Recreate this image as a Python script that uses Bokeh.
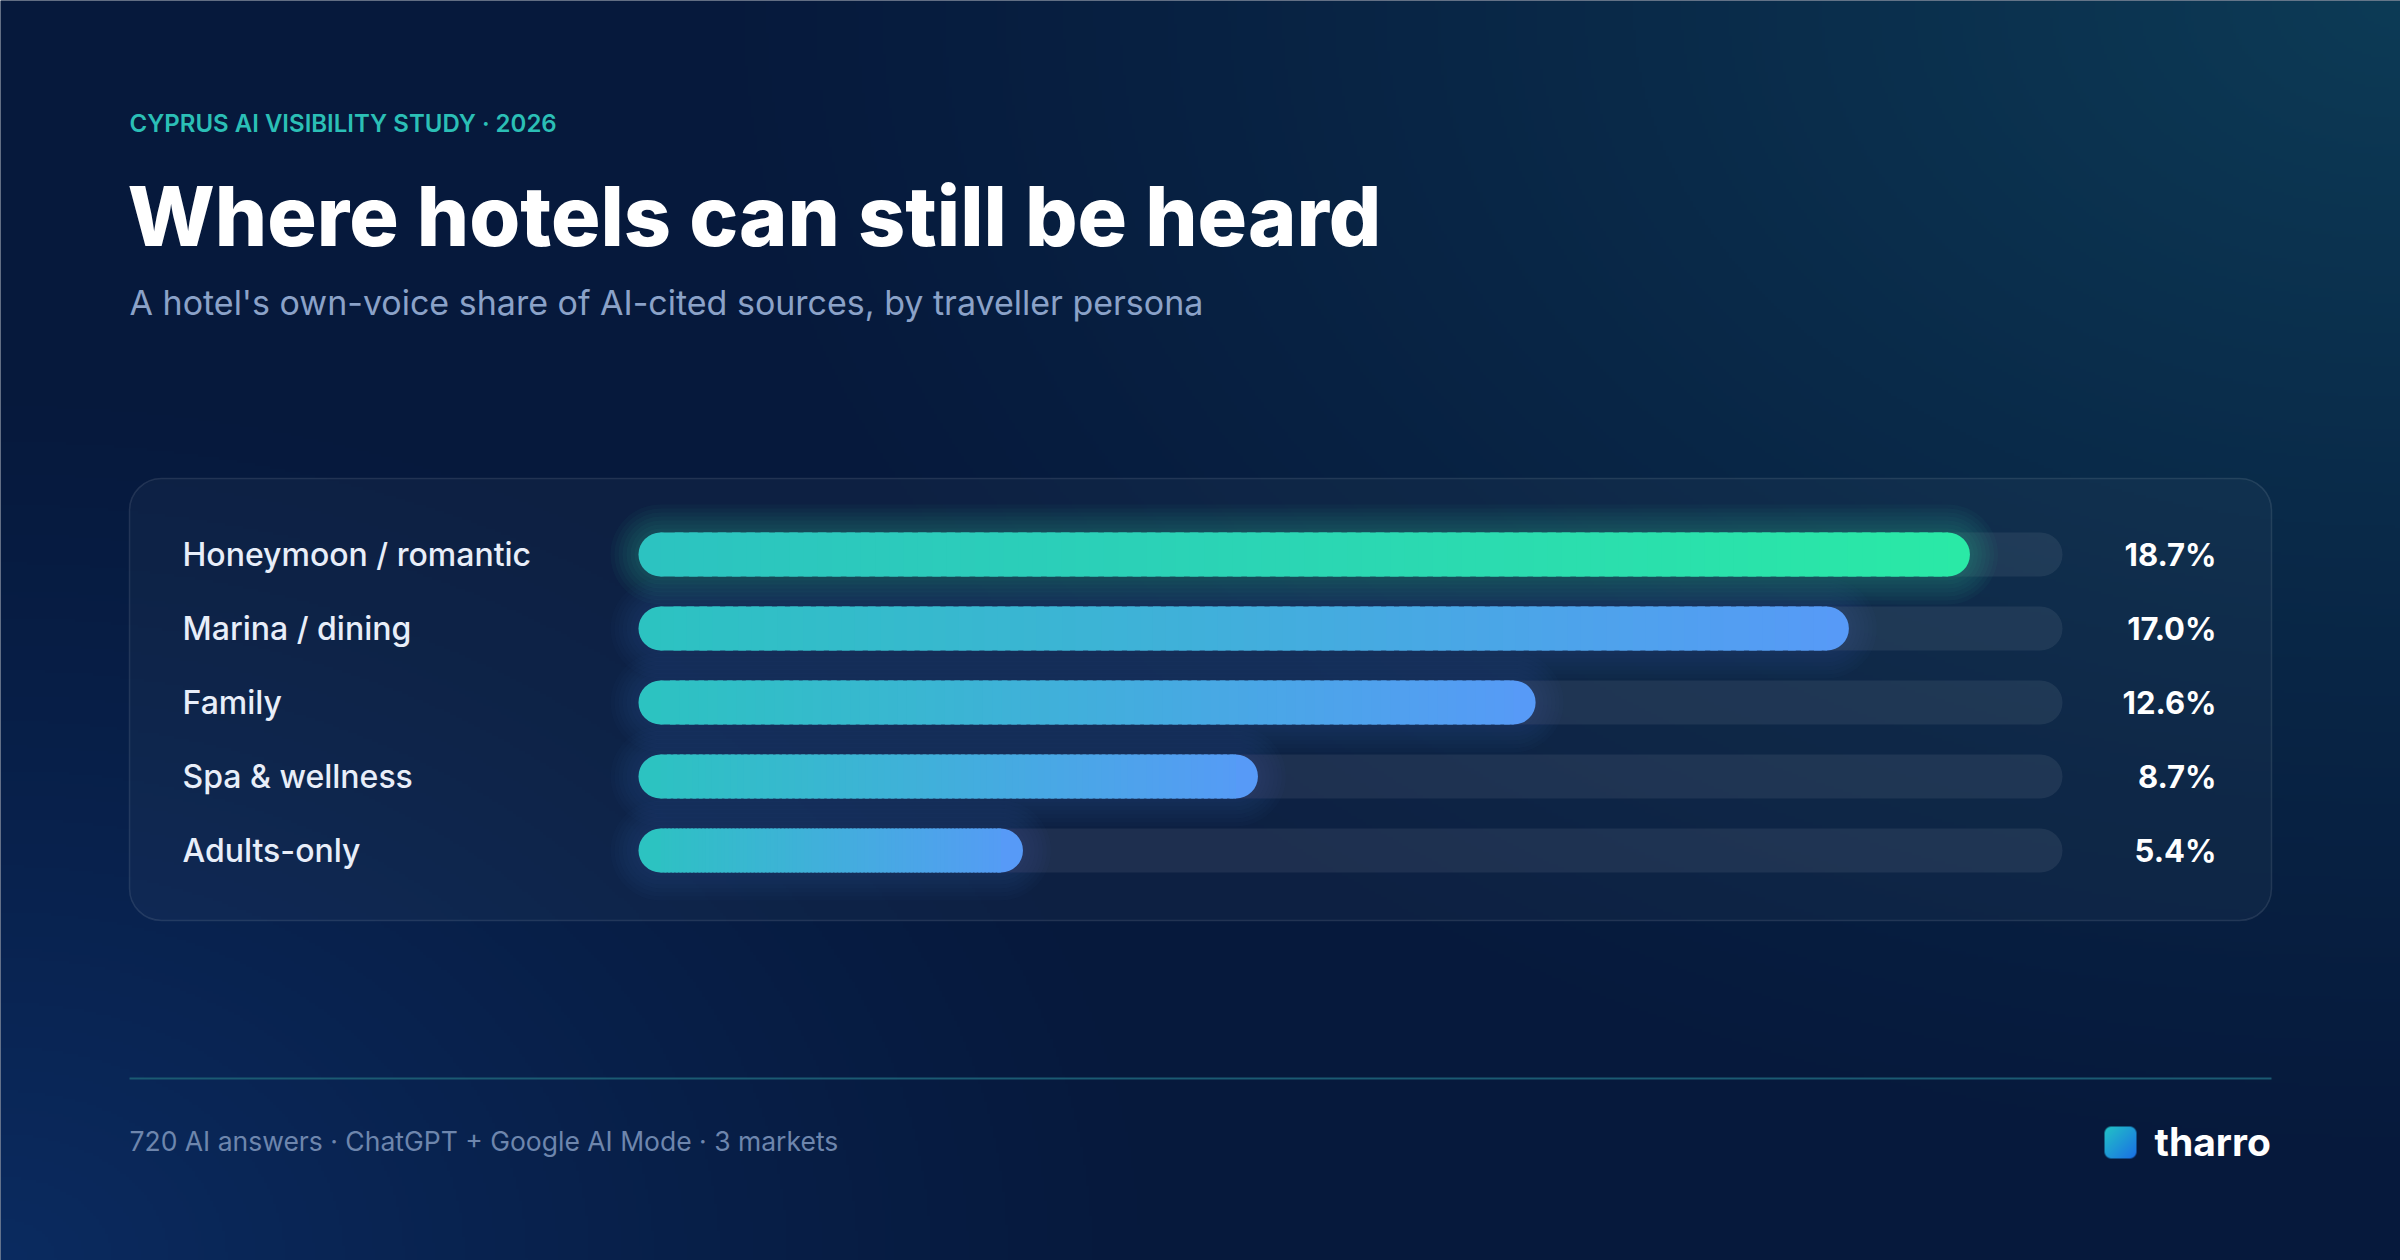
import numpy as np
from bokeh.plotting import figure
from bokeh.models import Range1d, Label
from bokeh.core.properties import value
from bokeh.embed import file_html
from bokeh.resources import INLINE

# ---------------- data ----------------
categories = ["Honeymoon / romantic", "Marina / dining", "Family", "Spa & wellness", "Adults-only"]
shares = [18.7, 17.0, 12.6, 8.7, 5.4]          # % own-voice share
scale_max = 20.0                                 # full track = 20 %
eyebrow = "CYPRUS AI VISIBILITY STUDY · 2026"
title = "Where hotels can still be heard"
subtitle = "A hotel's own-voice share of AI-cited sources, by traveller persona"
footnote = "720 AI answers · ChatGPT + Google AI Mode · 3 markets"
brand = "tharro"

# ---------------- layout (pixels) ----------------
W, H = 2400, 1260
TRACK_L, TRACK_R = 638, 2062
ROW0, STEP = 554, 74
BAR_PX = 44

dx = scale_max / (TRACK_R - TRACK_L)
x0 = -TRACK_L * dx
x1 = x0 + W * dx
ytop = ROW0 / STEP
ybot = ytop - H / STEP


def X(px):
    return x0 + px * dx


def Y(py):
    return ytop - py / STEP


def hex2rgb(h):
    h = h.lstrip("#")
    return np.array([int(h[i:i + 2], 16) for i in (0, 2, 4)], float)


def rgb2hex(c):
    c = np.clip(np.round(c), 0, 255).astype(int)
    return "#%02x%02x%02x" % tuple(c)


p = figure(width=W, height=H, x_range=Range1d(x0, x1), y_range=Range1d(ybot, ytop),
           toolbar_location=None, output_backend="svg", min_border=0,
           x_axis_location=None, y_axis_location=None)
p.grid.visible = False
p.outline_line_color = None
p.background_fill_color = "#06183b"
p.border_fill_color = "#06183b"

# ---------------- background gradient ----------------
GW, GH = 800, 420
gx = (np.arange(GW) + 0.5) * W / GW
gy = H - (np.arange(GH) + 0.5) * H / GH
PX, PY = np.meshgrid(gx, gy)
base = np.array([6, 25, 60], float)
d1 = np.sqrt(((PX - W) / 1750.0) ** 2 + (PY / 1200.0) ** 2)
w1 = np.clip(1 - d1, 0, 1) ** 1.2
d2 = np.sqrt((PX / 1200.0) ** 2 + ((H - PY) / 900.0) ** 2)
w2 = np.clip(1 - d2, 0, 1) ** 1.2
rgb = base + w1[..., None] * np.array([7, 34, 26]) + w2[..., None] * np.array([5, 18, 36])
img = np.empty((GH, GW), dtype=np.uint32)
view = img.view(dtype=np.uint8).reshape((GH, GW, 4))
view[..., 0] = np.clip(rgb[..., 0], 0, 255).astype(np.uint8)
view[..., 1] = np.clip(rgb[..., 1], 0, 255).astype(np.uint8)
view[..., 2] = np.clip(rgb[..., 2], 0, 255).astype(np.uint8)
view[..., 3] = 255
p.image_rgba(image=[img], x=X(0), y=Y(H), dw=W * dx, dh=H / STEP)

# ---------------- card ----------------
p.quad(left=X(129), right=X(2271), top=Y(478), bottom=Y(920),
       fill_color="white", fill_alpha=0.03, line_color="white", line_alpha=0.10,
       line_width=1.5, border_radius=32)

n = len(categories)
ys = [-i for i in range(n)]
bh = BAR_PX / STEP

# tracks
p.hbar(y=ys, left=[0] * n, right=[scale_max] * n, height=bh,
       fill_color="white", fill_alpha=0.07, line_color=None, border_radius=22)

start_col = hex2rgb("#2cc3c1")
end_cols = [hex2rgb("#2ae9a6")] + [hex2rgb("#579af7")] * (n - 1)
glow_cols = ["#2bd9b0"] + ["#4a8fe6"] * (n - 1)
glow_alpha = [0.035] + [0.025] * (n - 1)

# glow
for k in range(1, 8):
    ex = 4 * k
    p.hbar(y=ys, left=[-ex * dx] * n, right=[v + ex * dx for v in shares],
           height=(BAR_PX + 2 * ex) / STEP, fill_color=glow_cols, fill_alpha=glow_alpha,
           line_color=None, border_radius=22 + ex)

# bars with gradient (rounded caps + colour slices)
r = BAR_PX / 2 * dx
NS = 90
for i, v in enumerate(shares):
    ec = end_cols[i]
    p.hbar(y=[ys[i]], left=[0], right=[2 * r], height=bh, fill_color=rgb2hex(start_col),
           line_color=None, border_radius=22)
    p.hbar(y=[ys[i]], left=[v - 2 * r], right=[v], height=bh, fill_color=rgb2hex(ec),
           line_color=None, border_radius=22)
    edges = np.linspace(r, v - r, NS + 1)
    lefts = edges[:-1]
    w = edges[1] - edges[0]
    rights = lefts + w * 1.6
    rights[-1] = edges[-1]
    cols = [rgb2hex(start_col + (ec - start_col) * ((a + w / 2) / v)) for a in lefts]
    p.hbar(y=[ys[i]] * NS, left=lefts, right=rights, height=bh, fill_color=cols,
           line_color=None)

# category labels and values
p.text(x=[0] * n, y=ys, text=categories, x_offset=-(TRACK_L - 182),
       text_baseline="middle", text_align="left", text_font=value("Inter Medium"),
       text_font_size="32px", text_color="#e8eef9")
p.text(x=[scale_max] * n, y=ys, text=[f"{v:.1f}%" for v in shares], x_offset=2216 - TRACK_R,
       text_baseline="middle", text_align="right", text_font=value("Inter"),
       text_font_style="bold", text_font_size="31px", text_color="#ffffff")


def add_text(px, py_base, txt, size, color, font="Inter", style="normal"):
    # place so that the alphabetic baseline lands on py_base
    p.add_layout(Label(x=X(px), y=Y(py_base - 0.4 * size), text=txt,
                       text_baseline="alphabetic", text_font=font, text_font_style=style,
                       text_font_size=f"{size}px", text_color=color))


# ---------------- titles ----------------
add_text(129, 133, eyebrow, 24, "#2bbfb6", font="Inter SemiBold")
add_text(127, 248, title, 82.5, "#ffffff", font="Inter ExtraBold", style="bold")
add_text(129, 316, subtitle, 34, "#8ba2c8")

# footer
p.segment(x0=[X(129)], x1=[X(2271)], y0=[Y(1078)], y1=[Y(1078)], line_color="#1b5a72",
          line_width=2)
add_text(129, 1151, footnote, 26.5, "#6e86ad")
add_text(2154, 1157, brand, 39, "#ffffff", style="bold")

# logo mark (rounded square with gradient)
LS = 32
lx = np.arange(LS) + 0.5
LXg, LYg = np.meshgrid(lx, lx)  # row 0 = bottom
t = np.clip(((LXg) + (LS - LYg)) / (2 * LS), 0, 1)
c0, c1 = hex2rgb("#22c3c6"), hex2rgb("#1a6fe6")
lrgb = c0 + (c1 - c0) * t[..., None]
rad = 7.0
cx = np.clip(LXg, rad, LS - rad)
cy = np.clip(LYg, rad, LS - rad)
dist = np.sqrt((LXg - cx) ** 2 + (LYg - cy) ** 2)
alpha = np.clip(rad + 0.5 - dist, 0, 1)
limg = np.empty((LS, LS), dtype=np.uint32)
lv = limg.view(dtype=np.uint8).reshape((LS, LS, 4))
for ch in range(3):
    lv[..., ch] = np.clip(lrgb[..., ch], 0, 255).astype(np.uint8)
lv[..., 3] = (alpha * 255).astype(np.uint8)
p.image_rgba(image=[limg], x=X(2104), y=Y(1158), dw=LS * dx, dh=LS / STEP)

open("out.html", "w").write(file_html(p, INLINE))
